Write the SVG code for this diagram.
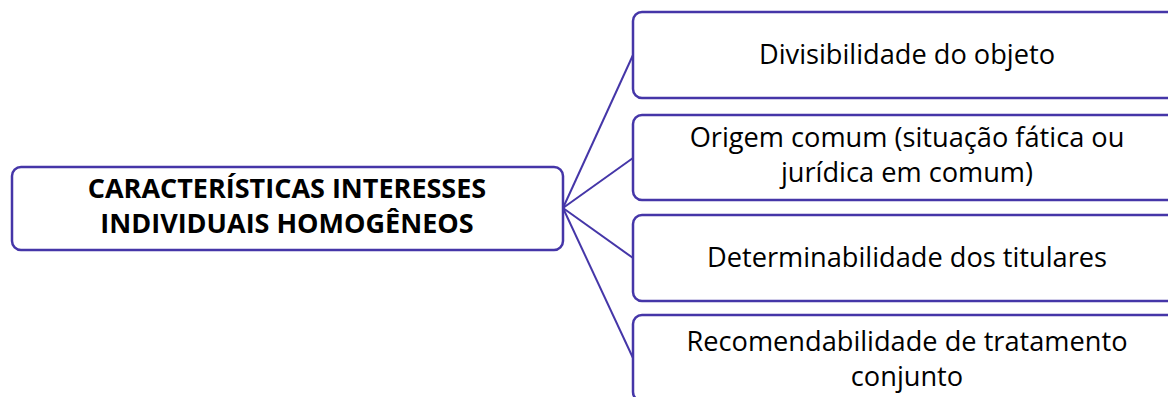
<svg xmlns="http://www.w3.org/2000/svg" width="1168" height="397" viewBox="0 0 1168 397">
<style>
.box{fill:#fff;stroke:#4536a8;stroke-width:2.5}
.con{stroke:#4536a8;stroke-width:2;fill:none}
.t{font-family:"Open Sans","Liberation Sans",sans-serif;font-size:27.2px;fill:#000;text-anchor:middle}
.b{font-weight:bold;font-size:27px}
</style>
<rect width="1168" height="397" fill="#fff"/>
<g id="connectors">
<line class="con" x1="563" y1="208" x2="633" y2="55"/>
<line class="con" x1="563" y1="208" x2="633" y2="158"/>
<line class="con" x1="563" y1="208" x2="633" y2="258"/>
<line class="con" x1="563" y1="208" x2="633" y2="358"/>
</g>
<g id="root">
<rect class="box" x="12" y="167" width="551" height="83" rx="9"/>
<text class="t b" x="287" y="198">CARACTERÍSTICAS INTERESSES</text>
<text class="t b" x="287" y="233">INDIVIDUAIS HOMOGÊNEOS</text>
</g>
<g id="n1">
<rect class="box" x="633" y="12" width="550" height="86" rx="9"/>
<text class="t" x="907" y="64">Divisibilidade do objeto</text>
</g>
<g id="n2">
<rect class="box" x="633" y="115" width="550" height="85" rx="9"/>
<text class="t" x="907" y="147">Origem comum (situação fática ou</text>
<text class="t" x="907" y="182">jurídica em comum)</text>
</g>
<g id="n3">
<rect class="box" x="633" y="215" width="550" height="86" rx="9"/>
<text class="t" x="907" y="267">Determinabilidade dos titulares</text>
</g>
<g id="n4">
<rect class="box" x="633" y="315" width="550" height="86" rx="9"/>
<text class="t" x="907" y="351">Recomendabilidade de tratamento</text>
<text class="t" x="907" y="386">conjunto</text>
</g>
</svg>
